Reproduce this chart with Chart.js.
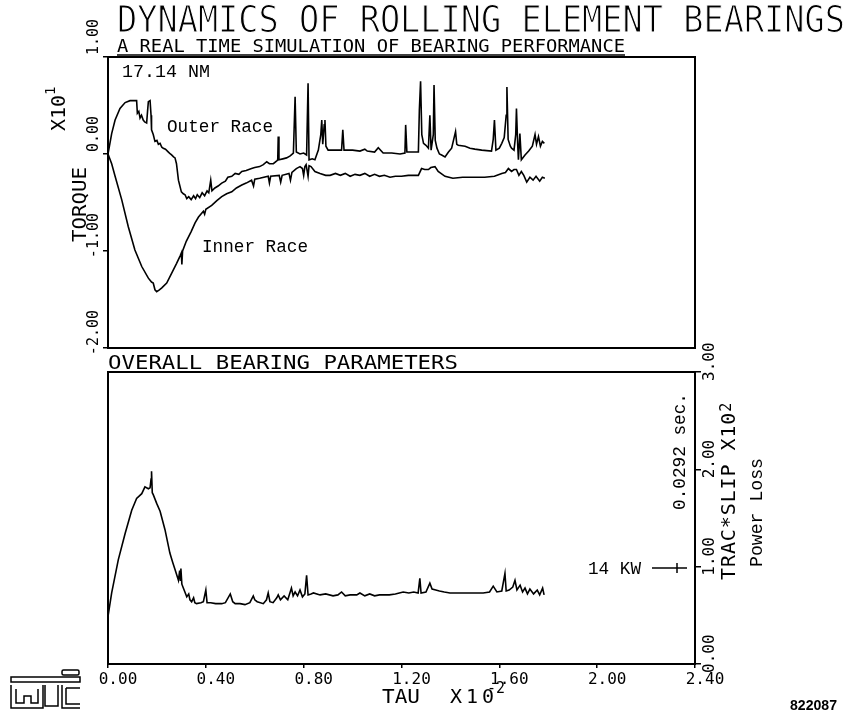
<!DOCTYPE html>
<html><head><meta charset="utf-8">
<script src="https://cdn.jsdelivr.net/npm/chart.js@4.4.1/dist/chart.umd.min.js"></script>
<style>
html,body{margin:0;padding:0;background:#fff;}
#wrap{position:relative;width:849px;height:719px;overflow:hidden;background:#fff;}
canvas{position:absolute;left:0;}
#topChart{top:0;}
#botChart{top:330px;}
svg{position:absolute;left:0;top:0;}
</style></head><body>
<div id="wrap">
<canvas id="topChart" width="849" height="362"></canvas>
<canvas id="botChart" width="849" height="389"></canvas>
<svg width="849" height="719" xmlns="http://www.w3.org/2000/svg">
 <g font-family="DejaVu Sans Mono" fill="#000">
  <text x="117" y="32" font-size="37" textLength="728" lengthAdjust="spacingAndGlyphs" stroke="#fff" stroke-width="1.1">DYNAMICS OF ROLLING ELEMENT BEARINGS</text>
  <text x="117" y="52" font-size="18" textLength="508" lengthAdjust="spacingAndGlyphs">A REAL TIME SIMULATION OF BEARING PERFORMANCE</text>
  <text x="108" y="369" font-size="19" textLength="350" lengthAdjust="spacingAndGlyphs">OVERALL BEARING PARAMETERS</text>
  <text transform="translate(86,242) rotate(-90)" font-size="20" textLength="75" lengthAdjust="spacingAndGlyphs">TORQUE</text>
  <text transform="translate(65,131) rotate(-90)" font-size="20">X10<tspan dy="-10" font-size="14">1</tspan></text>
  <text transform="translate(735,580) rotate(-90)" font-size="20" letter-spacing="0.9">TRAC*SLIP X10<tspan dy="-4" font-size="15">2</tspan></text>
  <text x="382" y="703" font-size="20" textLength="38" lengthAdjust="spacingAndGlyphs">TAU</text>
  <text x="450" y="703" font-size="20" letter-spacing="4">X10<tspan x="487" y="693" font-size="15" letter-spacing="0">-2</tspan></text>
 </g>
 <g font-family="Liberation Mono" fill="#000">
  <text x="122" y="77" font-size="18" textLength="88" lengthAdjust="spacingAndGlyphs">17.14 NM</text>
  <text x="167" y="132" font-size="18" textLength="106" lengthAdjust="spacingAndGlyphs">Outer Race</text>
  <text x="202" y="252" font-size="18" textLength="106" lengthAdjust="spacingAndGlyphs">Inner Race</text>
  <text x="588" y="574" font-size="18" textLength="53" lengthAdjust="spacingAndGlyphs">14 KW</text>
  <text transform="translate(685,510) rotate(-90)" font-size="18" textLength="117" lengthAdjust="spacingAndGlyphs">0.0292 sec.</text>
  <text transform="translate(762,567) rotate(-90)" font-size="18" textLength="109" lengthAdjust="spacingAndGlyphs">Power Loss</text>
 </g>
 <text x="790" y="710" font-family="Liberation Sans" font-size="14" font-weight="bold" textLength="47" lengthAdjust="spacingAndGlyphs">822087</text>
 <g stroke="#000" stroke-width="1.5" fill="none">
  <line x1="117" y1="55" x2="625" y2="55"/>
  <line x1="652" y1="568" x2="687" y2="568"/>
  <line x1="677" y1="563" x2="677" y2="573"/>
  <rect x="62" y="670" width="17" height="5" rx="1.5"/>
  <rect x="11" y="677" width="69" height="5"/>
  <path d="M11 685 V708 H43 V685 M16 689 V703 H24 V696 H31 V703 H38 V689"/>
  <path d="M45 685 V706 H58 V685"/>
  <path d="M62 685 V708 H80 M66 688 V704 H80 M66 688 H80"/>
 </g>
</svg>
</div>
<script>
// ---------- data ----------
const xTicks = [0, 0.4, 0.8, 1.2, 1.6, 2.0, 2.4];
const torqueTicks = [1, 0, -1, -2];
const tracTicks = [0, 1, 2, 3];

const tauOuter = [0.000,0.015,0.029,0.049,0.070,0.090,0.117,0.120,0.126,0.131,0.137,0.144,0.150,0.158,0.162,0.165,0.172,0.176,0.178,0.185,0.192,0.200,0.206,0.213,0.220,0.226,0.235,0.247,0.255,0.260,0.268,0.274,0.280,0.288,0.300,0.308,0.315,0.322,0.330,0.340,0.350,0.358,0.365,0.375,0.385,0.395,0.405,0.412,0.420,0.425,0.437,0.450,0.465,0.480,0.490,0.506,0.520,0.535,0.547,0.565,0.587,0.600,0.620,0.635,0.649,0.660,0.676,0.690,0.694,0.696,0.699,0.715,0.730,0.745,0.758,0.765,0.770,0.785,0.800,0.812,0.818,0.822,0.835,0.846,0.860,0.870,0.874,0.878,0.884,0.887,0.891,0.900,0.935,0.955,0.960,0.965,1.000,1.030,1.050,1.060,1.090,1.105,1.125,1.160,1.194,1.214,1.217,1.222,1.269,1.273,1.278,1.283,1.290,1.300,1.310,1.316,1.321,1.330,1.333,1.338,1.345,1.355,1.364,1.378,1.392,1.405,1.421,1.426,1.432,1.460,1.480,1.500,1.528,1.568,1.575,1.580,1.586,1.600,1.610,1.620,1.628,1.631,1.636,1.645,1.650,1.660,1.667,1.670,1.675,1.678,1.684,1.690,1.705,1.720,1.735,1.746,1.752,1.760,1.768,1.776,1.784];
const outerRace = [0.00,0.21,0.35,0.47,0.53,0.55,0.55,0.42,0.44,0.37,0.40,0.35,0.33,0.32,0.45,0.54,0.55,0.40,0.25,0.20,0.13,0.14,0.10,0.11,0.07,0.06,0.05,0.02,0.00,-0.01,-0.03,-0.04,-0.10,-0.27,-0.39,-0.41,-0.42,-0.46,-0.44,-0.47,-0.43,-0.46,-0.42,-0.45,-0.40,-0.43,-0.38,-0.40,-0.27,-0.38,-0.35,-0.33,-0.30,-0.28,-0.24,-0.23,-0.20,-0.21,-0.18,-0.17,-0.15,-0.14,-0.13,-0.11,-0.08,-0.10,-0.10,-0.07,-0.06,0.18,-0.06,-0.05,-0.04,-0.02,0.01,0.59,0.02,0.00,0.01,-0.01,0.73,-0.06,-0.05,-0.06,0.04,0.20,0.35,0.10,0.30,0.35,0.08,0.04,0.04,0.04,0.25,0.04,0.04,0.03,0.05,0.03,0.02,0.065,0.01,0.01,0.00,0.01,0.30,0.02,0.02,0.45,0.75,0.20,0.11,0.09,0.06,0.40,0.04,0.20,0.71,0.14,0.06,0.00,-0.01,-0.03,0.02,0.06,0.23,0.10,0.09,0.08,0.06,0.05,0.04,0.03,0.15,0.35,0.04,0.06,0.11,0.17,0.40,0.69,0.15,0.08,0.06,0.04,0.20,0.47,0.10,-0.06,0.21,-0.06,-0.01,0.03,0.08,0.20,0.10,0.18,0.08,0.13,0.11];

const tauInner = [0.000,0.015,0.029,0.056,0.083,0.110,0.138,0.165,0.178,0.185,0.192,0.199,0.210,0.220,0.240,0.260,0.280,0.295,0.300,0.302,0.305,0.320,0.340,0.356,0.370,0.390,0.395,0.400,0.424,0.445,0.465,0.485,0.506,0.525,0.547,0.565,0.587,0.595,0.600,0.620,0.655,0.660,0.665,0.700,0.706,0.712,0.740,0.746,0.752,0.770,0.785,0.795,0.800,0.805,0.810,0.818,0.822,0.830,0.846,0.867,0.890,0.908,0.930,0.950,0.970,0.990,1.010,1.030,1.050,1.070,1.090,1.110,1.130,1.153,1.175,1.200,1.228,1.269,1.282,1.295,1.310,1.320,1.337,1.350,1.378,1.410,1.450,1.487,1.540,1.580,1.610,1.625,1.637,1.650,1.660,1.670,1.680,1.690,1.700,1.712,1.725,1.738,1.750,1.765,1.776,1.786];
const innerRace = [0.00,-0.10,-0.23,-0.47,-0.75,-0.99,-1.16,-1.28,-1.32,-1.33,-1.40,-1.42,-1.40,-1.38,-1.33,-1.23,-1.13,-1.05,-1.02,-1.14,-1.00,-0.90,-0.80,-0.71,-0.65,-0.59,-0.62,-0.57,-0.53,-0.48,-0.44,-0.41,-0.39,-0.35,-0.32,-0.30,-0.27,-0.33,-0.26,-0.25,-0.23,-0.30,-0.23,-0.22,-0.29,-0.22,-0.20,-0.27,-0.19,-0.15,-0.13,-0.15,-0.22,-0.13,-0.11,-0.23,-0.12,-0.13,-0.18,-0.20,-0.22,-0.22,-0.20,-0.22,-0.20,-0.23,-0.21,-0.22,-0.20,-0.23,-0.21,-0.23,-0.22,-0.24,-0.23,-0.23,-0.22,-0.22,-0.15,-0.16,-0.16,-0.14,-0.13,-0.18,-0.23,-0.25,-0.24,-0.24,-0.24,-0.23,-0.20,-0.19,-0.15,-0.18,-0.16,-0.16,-0.22,-0.18,-0.22,-0.29,-0.24,-0.27,-0.23,-0.28,-0.24,-0.25];

const tauLoss = [0.000,0.015,0.042,0.070,0.097,0.117,0.138,0.151,0.165,0.172,0.176,0.178,0.181,0.185,0.199,0.213,0.233,0.253,0.265,0.274,0.288,0.293,0.296,0.298,0.302,0.308,0.322,0.330,0.335,0.342,0.350,0.355,0.362,0.380,0.390,0.400,0.405,0.420,0.440,0.465,0.480,0.500,0.510,0.520,0.540,0.560,0.580,0.594,0.600,0.610,0.635,0.648,0.655,0.662,0.675,0.690,0.696,0.705,0.720,0.735,0.745,0.750,0.757,0.765,0.775,0.785,0.795,0.805,0.812,0.818,0.830,0.840,0.867,0.890,0.920,0.940,0.955,0.970,0.990,1.017,1.030,1.050,1.070,1.090,1.110,1.125,1.150,1.175,1.207,1.230,1.250,1.268,1.275,1.280,1.300,1.316,1.325,1.340,1.355,1.375,1.398,1.430,1.453,1.500,1.534,1.560,1.575,1.590,1.610,1.623,1.628,1.640,1.655,1.664,1.672,1.685,1.695,1.705,1.715,1.725,1.740,1.755,1.765,1.777,1.783];
const powerLoss = [0.49,0.73,1.07,1.34,1.58,1.70,1.75,1.82,1.80,1.81,1.90,1.98,1.76,1.74,1.65,1.57,1.38,1.14,1.04,0.97,0.86,0.96,0.86,0.98,0.82,0.78,0.69,0.72,0.66,0.64,0.68,0.63,0.62,0.63,0.64,0.76,0.63,0.63,0.62,0.62,0.63,0.72,0.64,0.62,0.62,0.61,0.63,0.70,0.66,0.64,0.62,0.66,0.73,0.64,0.63,0.68,0.71,0.66,0.70,0.66,0.74,0.78,0.70,0.74,0.70,0.76,0.69,0.72,0.91,0.71,0.72,0.73,0.71,0.72,0.70,0.71,0.74,0.70,0.71,0.71,0.73,0.70,0.72,0.70,0.71,0.71,0.71,0.72,0.74,0.73,0.74,0.73,0.88,0.73,0.74,0.83,0.77,0.76,0.75,0.74,0.73,0.73,0.73,0.73,0.73,0.74,0.80,0.74,0.75,0.93,0.75,0.76,0.79,0.86,0.76,0.81,0.74,0.78,0.72,0.77,0.72,0.76,0.71,0.78,0.71];

// ---------- helpers ----------
const zip = (xs, ys) => xs.map((x, i) => ({x: x, y: ys[i]}));
const fmt = v => Number(v).toFixed(2);
const plotFont = 'DejaVu Sans Mono';

const framePlugin = {
  id: 'frame',
  afterDraw(chart) {
    const {ctx, chartArea: a} = chart;
    ctx.save();
    ctx.strokeStyle = '#000';
    ctx.lineWidth = 2;
    ctx.strokeRect(a.left, a.top, a.right - a.left, a.bottom - a.top);
    ctx.restore();
  }
};

const lineStyle = {borderColor: '#000', borderWidth: 1.6, pointRadius: 0, tension: 0, fill: false};

new Chart(document.getElementById('topChart'), {
  type: 'line',
  data: {
    datasets: [
      Object.assign({label: 'Outer Race', data: zip(tauOuter, outerRace)}, lineStyle),
      Object.assign({label: 'Inner Race', data: zip(tauInner, innerRace)}, lineStyle)
    ]
  },
  options: {
    responsive: false, animation: false, devicePixelRatio: 1,
    layout: {padding: {left: 78, top: 57, right: 154, bottom: 14}},
    plugins: {legend: {display: false}, tooltip: {enabled: false}},
    scales: {
      x: {type: 'linear', min: 0, max: 2.4, display: false},
      y: {
        type: 'linear', position: 'left', min: -2, max: 1,
        afterBuildTicks: s => { s.ticks = torqueTicks.map(v => ({value: v})); },
        afterFit: s => { s.width = 30; s.paddingTop = 0; s.paddingBottom = 0; },
        ticks: {
          callback: fmt, color: '#000', font: {family: plotFont, size: 15},
          minRotation: 90, maxRotation: 90, crossAlign: 'near', labelOffset: -38, padding: 9
        },
        grid: {display: true, drawOnChartArea: false, drawTicks: true, tickLength: 5, color: '#000', lineWidth: 1.5},
        border: {display: false}
      }
    }
  },
  plugins: [framePlugin]
});

new Chart(document.getElementById('botChart'), {
  type: 'line',
  data: {
    datasets: [
      Object.assign({label: 'Power Loss', data: zip(tauLoss, powerLoss)}, lineStyle)
    ]
  },
  options: {
    responsive: false, animation: false, devicePixelRatio: 1,
    layout: {padding: {left: 108, top: 42, right: 128, bottom: 15}},
    plugins: {legend: {display: false}, tooltip: {enabled: false}},
    scales: {
      x: {
        type: 'linear', position: 'bottom', min: 0, max: 2.4,
        afterBuildTicks: s => { s.ticks = xTicks.map(v => ({value: v})); },
        afterFit: s => { s.height = 40; s.paddingLeft = 0; s.paddingRight = 0; },
        ticks: {
          callback: fmt, color: '#000', font: {family: plotFont, size: 16},
          maxRotation: 0, autoSkip: false, labelOffset: 10, padding: 2
        },
        grid: {display: true, drawOnChartArea: false, drawTicks: true, tickLength: 4, color: '#000', lineWidth: 1.5},
        border: {display: false}
      },
      y: {
        type: 'linear', position: 'right', min: 0, max: 3,
        afterBuildTicks: s => { s.ticks = tracTicks.map(v => ({value: v})); },
        afterFit: s => { s.width = 26; s.paddingTop = 0; s.paddingBottom = 0; },
        ticks: {
          callback: fmt, color: '#000', font: {family: plotFont, size: 16},
          minRotation: 90, maxRotation: 90, crossAlign: 'near', labelOffset: 9, padding: 9
        },
        grid: {display: true, drawOnChartArea: false, drawTicks: true, tickLength: 6, color: '#000', lineWidth: 1.5},
        border: {display: false}
      }
    }
  },
  plugins: [framePlugin]
});
</script>
</body></html>
